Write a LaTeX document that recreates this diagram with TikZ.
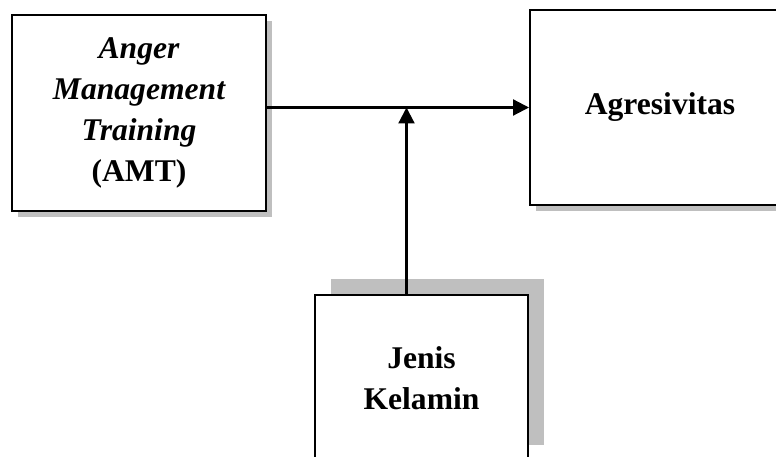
\documentclass[tikz,border=0pt]{standalone}
\usepackage{fontspec}
\setmainfont{Liberation Serif}
\usetikzlibrary{arrows.meta,shadows}

\begin{document}
\begin{tikzpicture}[x=1pt,y=-1pt,
    box/.style={draw, line width=2pt, fill=white, align=center, inner sep=0pt,
      font=\fontsize{31.6}{41}\selectfont\bfseries},
    arr/.style={line width=2.2pt, -{Triangle[length=16pt,width=16pt]}}]
  \useasboundingbox (0,0) rectangle (776,457);
  \clip (0,0) rectangle (776,457);
  \node[box, minimum width=254pt, minimum height=196pt,
    drop shadow={shadow xshift=6pt, shadow yshift=-6pt, fill=black!25, opacity=1}]
    (amt) at (139,113) {\itshape Anger\\\itshape Management\\\itshape Training\\(AMT)};
  \node[box, minimum width=260pt, minimum height=195pt,
    drop shadow={shadow xshift=6pt, shadow yshift=-6pt, fill=black!25, opacity=1}]
    (agr) at (660,107.5) {Agresivitas};
  \node[box, minimum width=213pt, minimum height=166pt,
    drop shadow={shadow xshift=16pt, shadow yshift=16pt, fill=black!25, opacity=1}]
    (jk) at (421.5,378) {Jenis\\Kelamin};
  \coordinate (foot) at ([xshift=-15pt]jk.north);
  \coordinate (meet) at (foot |- agr.west);
  \draw[arr] (agr.west -| amt.east) -- (agr.west);
  \draw[arr] (foot) -- (meet);
\end{tikzpicture}
\end{document}
